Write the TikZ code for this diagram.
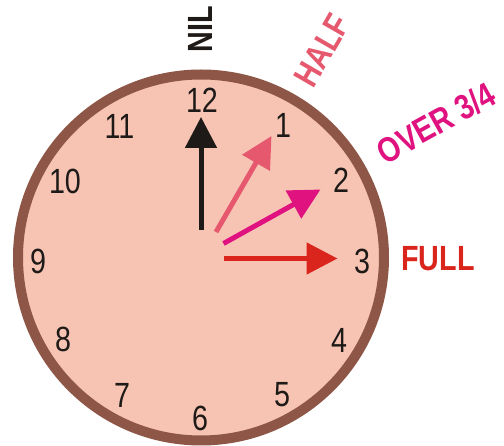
\documentclass[tikz,border=0pt]{standalone}
\usepackage{fontspec}
\setmainfont{Liberation Sans}
\newfontfamily\clockfont[FakeStretch=0.82]{Liberation Sans}
\usetikzlibrary{arrows.meta}
\definecolor{dialfill}{HTML}{F7C4B4}
\definecolor{rimbrown}{HTML}{8E5646}
\definecolor{inkblack}{HTML}{1E1A17}
\definecolor{halfpink}{HTML}{E5586E}
\definecolor{overmag}{HTML}{E0127F}
\definecolor{fullred}{HTML}{DA251D}
\tikzset{
  numlbl/.style={inner sep=0pt, text=inkblack, font=\clockfont\fontsize{35}{40}\selectfont},
  lvl/.style={inner sep=0pt, font=\clockfont\bfseries\fontsize{35}{40}\selectfont},
  hand/.style={line width=5pt, -{Triangle[length=31pt,width=31pt]}},
}
\begin{document}
\begin{tikzpicture}[x=1pt,y=-1pt]
\useasboundingbox (0,0) rectangle (504,446);
% dial
\node[circle, draw=rimbrown, fill=dialfill, line width=10pt, minimum size=366pt, inner sep=0pt] (dial) at (201,257.5) {};
% numbers
\foreach \i/\x/\y in {12/202/100.5, 1/283/125, 2/341/180, 3/362/261.5, 4/339/340, 5/282/395,
                      6/200/418, 7/122/395.5, 8/63/339, 9/38/261.5, 10/65/181, 11/119.5/126} {
  \node[numlbl] (n\i) at (\x,\y) {\i};
}
% hands
\coordinate (b0) at (201,230);   \coordinate (b1) at (201,117);
\coordinate (p0) at (216,232);   \coordinate (p1) at (271.5,136);
\coordinate (m0) at (223.5,243.5); \coordinate (m1) at (320.5,189.5);
\coordinate (r0) at (224,258.5); \coordinate (r1) at (337.5,258.5);
\draw[hand, draw=inkblack, fill=inkblack] (b0) -- (b1);
\draw[hand, draw=halfpink, fill=halfpink] (p0) -- (p1);
\draw[hand, draw=overmag, fill=overmag] (m0) -- (m1);
\draw[hand, draw=fullred, fill=fullred] (r0) -- (r1);
% labels
\node[lvl, text=inkblack, rotate=90] (nil) at (200.5,29) {NIL};
\node[lvl, text=halfpink, rotate=60] (half) at (322,50) {HALF};
\node[lvl, text=overmag, rotate=29] (over) at (436,123) {OVER 3/4};
\node[lvl, text=fullred] (full) at (438,259) {FULL};
\end{tikzpicture}
\end{document}
